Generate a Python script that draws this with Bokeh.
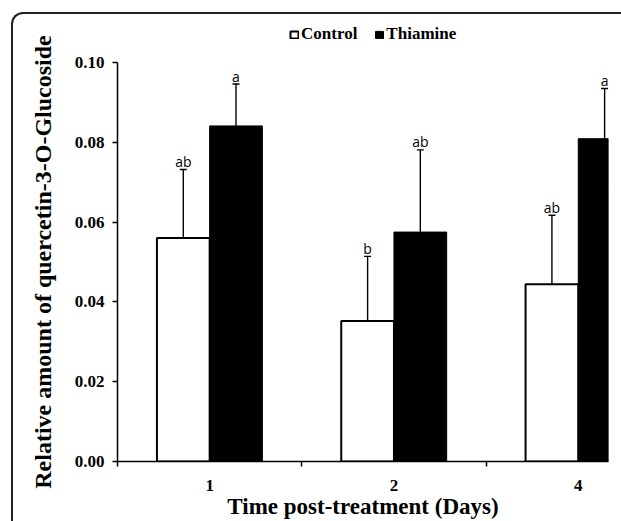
import numpy as np
from bokeh.plotting import figure
from bokeh.models import (ColumnDataSource, Range1d, FixedTicker, Whisker, TeeHead,
                          Legend, LegendItem)
from bokeh.layouts import column
from bokeh.core.properties import value
from bokeh.embed import file_html
from bokeh.resources import INLINE

# ---- data ----
days = ["1", "2", "4"]
control = [0.0560, 0.0352, 0.0444]
control_err = [0.0172, 0.0162, 0.0173]
thiamine = [0.0841, 0.0575, 0.0809]
thiamine_err = [0.0105, 0.0206, 0.0126]
control_letters = ["ab", "b", "ab"]
thiamine_letters = ["a", "ab", "a"]
y_ticks = [0.0, 0.02, 0.04, 0.06, 0.08, 0.10]
y_tick_labels = ["0.00", "0.02", "0.04", "0.06", "0.08", "0.10"]
series_names = ["Control", "Thiamine"]

# ---- styles ----
serif = "Liberation Serif"
ctrl_style = dict(fill_color="white", line_color="black", line_width=2)
thia_style = dict(fill_color="black", line_color="black", line_width=1)

n = len(days)
centers = np.arange(n) + 0.5
bar_w = 0.286
off = 0.143

ctrl = ColumnDataSource(dict(
    x=centers - off, top=control,
    upper=np.array(control) + np.array(control_err),
    lower=np.array(control) - np.array(control_err),
    lab=control_letters))
thia = ColumnDataSource(dict(
    x=centers + off, top=thiamine,
    upper=np.array(thiamine) + np.array(thiamine_err),
    lower=np.array(thiamine) - np.array(thiamine_err),
    lab=thiamine_letters))

# ---- legend strip (overlaps the top border area of the main chart) ----
pl = figure(width=608, height=48, x_range=Range1d(0, 2.664), y_range=Range1d(1, 2),
            x_axis_type=None, y_axis_type=None, toolbar_location=None,
            output_backend="svg", min_border=0,
            min_border_left=104, min_border_right=13)
pl.outline_line_color = None
pl.background_fill_color = None
pl.border_fill_color = None
pl.grid.visible = False
# same series, hidden here -> only their legend glyphs show
lr1 = pl.vbar(x="x", top="top", bottom=0, width=bar_w, source=ctrl, visible=False, **ctrl_style)
lr2 = pl.vbar(x="x", top="top", bottom=0, width=bar_w, source=thia, visible=False, **thia_style)
legend = Legend(items=[LegendItem(label=series_names[0], renderers=[lr1]),
                       LegendItem(label=series_names[1], renderers=[lr2])],
                orientation="horizontal", location=(172, 18),
                glyph_width=10, glyph_height=9, label_standoff=2, spacing=17,
                padding=0, margin=0, border_line_color=None,
                background_fill_alpha=0, click_policy="none",
                label_text_font=serif, label_text_font_style="bold",
                label_text_font_size="17px", label_text_color="black")
pl.add_layout(legend)

# ---- main chart ----
p = figure(width=608, height=507, x_range=Range1d(0, 2.664), y_range=Range1d(0, 0.10),
           toolbar_location=None, output_backend="svg", margin=(-48, 0, 0, 0),
           min_border_left=104, min_border_right=13, min_border_top=48, min_border_bottom=58)
p.outline_line_color = None
p.background_fill_color = None
p.border_fill_color = None
p.grid.visible = False

p.vbar(x="x", top="top", bottom=0, width=bar_w, source=ctrl, **ctrl_style)
p.vbar(x="x", top="top", bottom=0, width=bar_w, source=thia, **thia_style)

for src in (ctrl, thia):
    w = Whisker(base="x", upper="upper", lower="lower", source=src,
                line_color="black", line_width=1.4,
                upper_head=TeeHead(size=7, line_width=1.4, line_color="black"),
                lower_head=TeeHead(size=7, line_width=1.4, line_color="black"))
    p.add_layout(w)
    p.text(x="x", y="upper", text="lab", source=src, text_align="center",
           text_baseline="middle", y_offset=-8,
           text_font=value("Open Sans"), text_font_size="14px", text_color="black")

# y axis
ya = p.yaxis[0]
ya.ticker = FixedTicker(ticks=y_ticks)
ya.major_label_overrides = {t: l for t, l in zip(y_ticks, y_tick_labels)}
ya.minor_tick_line_color = None
ya.major_tick_out = 5
ya.major_tick_in = 0
ya.major_tick_line_width = 1.5
ya.axis_line_width = 1.5
ya.axis_line_color = "black"
ya.major_label_standoff = 8
ya.major_label_text_font = serif
ya.major_label_text_font_style = "bold"
ya.major_label_text_font_size = "17px"
ya.major_label_text_color = "black"
ya.axis_label = "Relative amount of quercetin-3-O-Glucoside"
ya.axis_label_text_font = serif
ya.axis_label_text_font_style = "bold"
ya.axis_label_text_font_size = "24px"
ya.axis_label_text_color = "black"
ya.axis_label_standoff = 16

# x axis
xa = p.xaxis[0]
xa.ticker = FixedTicker(ticks=list(centers), minor_ticks=list(range(n + 1)))
xa.major_label_overrides = {float(c): d for c, d in zip(centers, days)}
xa.major_tick_out = 0
xa.major_tick_in = 0
xa.minor_tick_out = 5
xa.minor_tick_in = 0
xa.minor_tick_line_width = 1.5
xa.minor_tick_line_color = "black"
xa.axis_line_width = 1.5
xa.axis_line_color = "black"
xa.major_label_standoff = 13
xa.major_label_text_font = serif
xa.major_label_text_font_style = "bold"
xa.major_label_text_font_size = "17px"
xa.major_label_text_color = "black"
xa.axis_label = "Time post-treatment (Days)"
xa.axis_label_text_font = serif
xa.axis_label_text_font_style = "bold"
xa.axis_label_text_font_size = "23px"
xa.axis_label_text_color = "black"
xa.axis_label_standoff = 0

layout = column(pl, p, spacing=0, margin=(12, 0, 0, 11),
                styles={"border-left": "2px solid #222", "border-top": "2px solid #222",
                        "border-top-left-radius": "12px"})

open("out.html", "w").write(file_html(layout, INLINE))
